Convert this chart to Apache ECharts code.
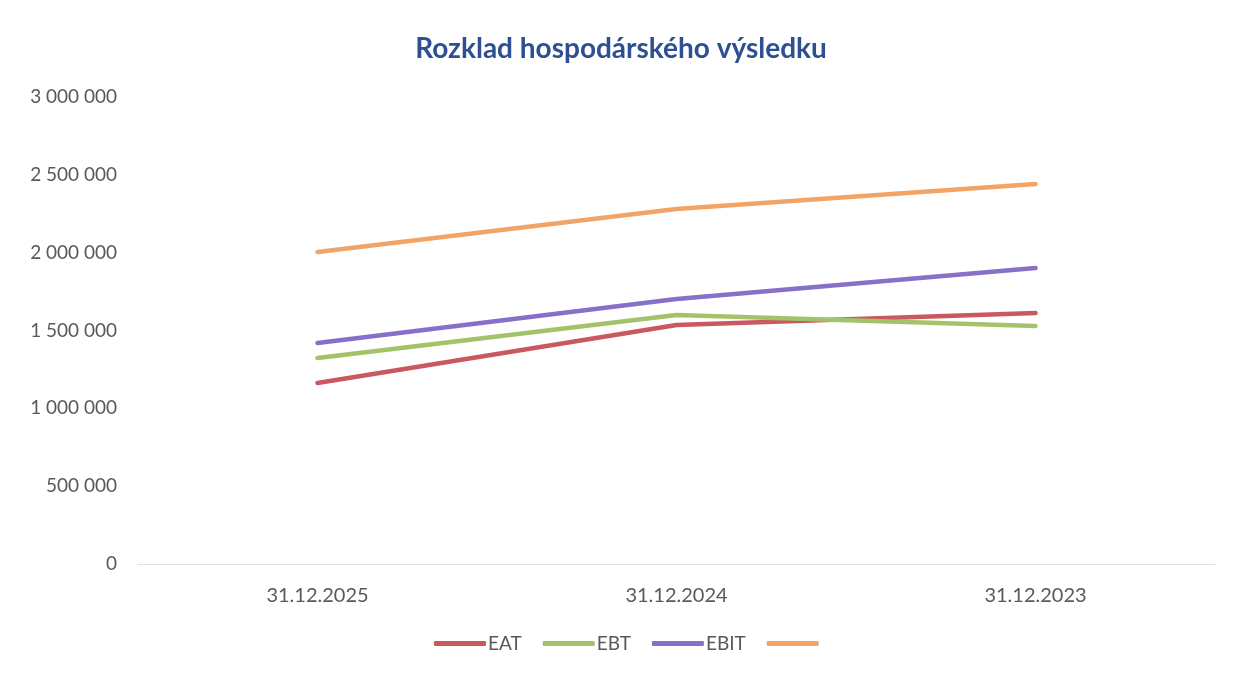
<!DOCTYPE html>
<html><head><meta charset="utf-8">
<script src="https://cdn.jsdelivr.net/npm/echarts@6/dist/echarts.min.js"></script>
<style>html,body{margin:0;padding:0;background:#fff}#c{width:1242px;height:676px}</style>
</head><body><div id="c"></div>
<script>
const categories = ['31.12.2025', '31.12.2024', '31.12.2023'];
const seriesNames = ['EAT', 'EBT', 'EBIT', ' '];
const eat = [1163000, 1535000, 1612000];
const ebt = [1323000, 1600000, 1529000];
const ebit = [1420000, 1702000, 1901000];
const fourth = [2004000, 2280000, 2441000];
const colors = ['#c9585f', '#a3c36a', '#8670c8', '#f2a466'];
const titleText = 'Rozklad hospodárského výsledku';

const fmt = v => String(v).replace(/\B(?=(\d{3})+(?!\d))/g, ' ');
const values = [eat, ebt, ebit, fourth];
const chart = echarts.init(document.getElementById('c'), null, {renderer: 'canvas'});
chart.setOption({
  animation: false,
  backgroundColor: '#fff',
  color: colors,
  title: {
    text: titleText, left: 'center', top: 30,
    textStyle: {fontFamily: 'Lato', fontSize: 28, fontWeight: 'bold', color: '#2e4f91'}
  },
  legend: {
    data: seriesNames, bottom: 18, left: 429,
    icon: 'roundRect', itemWidth: 52, itemHeight: 5, itemGap: 21,
    textStyle: {fontFamily: 'Lato', fontSize: 19, color: '#595959', padding: [0, 0, 0, -3]}
  },
  grid: {left: 138, right: 27, top: 97, bottom: 112, containLabel: false},
  xAxis: {
    type: 'category', data: categories, boundaryGap: true,
    axisLine: {lineStyle: {color: '#e0e0e0', width: 1}},
    axisTick: {show: false},
    axisLabel: {fontFamily: 'Lato', fontSize: 20, color: '#595959', margin: 22}
  },
  yAxis: {
    type: 'value', min: 0, max: 3000000, interval: 500000,
    splitLine: {show: false}, axisLine: {show: false}, axisTick: {show: false},
    axisLabel: {fontFamily: 'Lato', fontSize: 19, color: '#595959', margin: 21, formatter: fmt}
  },
  series: seriesNames.map((n, i) => ({
    name: n, type: 'line', data: values[i], symbol: 'none',
    lineStyle: {width: 4.5, cap: 'round', color: colors[i]}
  }))
});
</script></body></html>
